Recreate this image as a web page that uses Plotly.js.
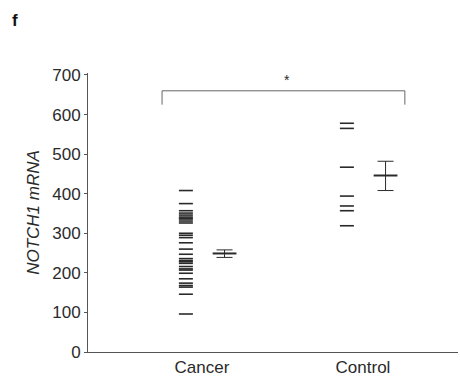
<!DOCTYPE html>
<html>
<head>
<meta charset="utf-8">
<script src="https://cdn.plot.ly/plotly-3.0.1.min.js"></script>
<style>html,body{margin:0;padding:0;background:#fff;}#chart{width:460px;height:383px;}</style>
</head>
<body>
<div id="chart"></div>
<script>
// Data
const categories = ["Cancer", "Control"];
const cancerValues = [408, 375, 357, 351, 346, 341, 338, 336, 331, 326, 300, 295, 289, 276, 260, 247, 236, 231, 228, 224, 216, 210, 207, 199, 185, 174, 168, 164, 146, 96];
const controlValues = [578, 565, 467, 394, 369, 357, 319];
const groupMeans = [249, 446];
const groupErrPlus = [9, 36];
const groupErrMinus = [10, 38];
const significanceLabel = "*";

const pointOffset = -0.1, meanOffset = 0.14;
const ink = "#2a2a2a";

const traces = [
  {
    type: "scatter", mode: "markers",
    x: cancerValues.map(() => 0 + pointOffset),
    y: cancerValues,
    marker: {symbol: "line-ew", size: 10, line: {width: 1.6, color: ink}},
    hoverinfo: "y", showlegend: false
  },
  {
    type: "scatter", mode: "markers",
    x: controlValues.map(() => 1 + pointOffset),
    y: controlValues,
    marker: {symbol: "line-ew", size: 10, line: {width: 1.6, color: ink}},
    hoverinfo: "y", showlegend: false
  },
  {
    type: "scatter", mode: "markers",
    x: categories.map((c, i) => i + meanOffset),
    y: groupMeans,
    marker: {symbol: "line-ew", size: 17, line: {width: 2, color: ink}},
    error_y: {type: "data", symmetric: false, array: groupErrPlus, arrayminus: groupErrMinus, color: ink, thickness: 1, width: 8},
    hoverinfo: "y", showlegend: false
  }
];

const layout = {
  width: 460, height: 383,
  margin: {l: 88, r: 2, t: 73, b: 31},
  paper_bgcolor: "#fff", plot_bgcolor: "#fff",
  font: {family: "Liberation Sans, Arial, sans-serif", color: ink, size: 17},
  showlegend: false,
  xaxis: {
    range: [-0.708, 1.59], tickvals: [0, 1], ticktext: categories,
    showgrid: false, zeroline: false, showline: true, linecolor: "#555", linewidth: 1,
    ticks: "", tickfont: {size: 17, color: ink}, fixedrange: true
  },
  yaxis: {
    range: [0, 705], tickvals: [0, 100, 200, 300, 400, 500, 600, 700],
    showgrid: false, zeroline: false, showline: true, linecolor: "#555", linewidth: 1,
    ticks: "outside", ticklen: 3, tickcolor: "#555", tickfont: {size: 17, color: ink},
    title: {text: "<i>NOTCH1 mRNA</i>", font: {size: 17, color: ink}, standoff: 8},
    fixedrange: true
  },
  shapes: [
    {type: "path", xref: "x", yref: "y", path: "M -0.248 625 L -0.248 660 L 1.26 660 L 1.26 625", line: {color: "#666", width: 1}}
  ],
  annotations: [
    {x: 0.53, y: 660, xref: "x", yref: "y", text: significanceLabel, showarrow: false, yanchor: "bottom", yshift: 1, font: {size: 14, color: ink}},
    {x: 0, y: 1, xref: "paper", yref: "paper", xanchor: "left", yanchor: "top", text: "<b>f</b>", showarrow: false, font: {size: 17, color: "#111"}, xshift: -78, yshift: 64}
  ]
};

Plotly.newPlot("chart", traces, layout, {displayModeBar: false, staticPlot: true});
</script>
</body>
</html>
